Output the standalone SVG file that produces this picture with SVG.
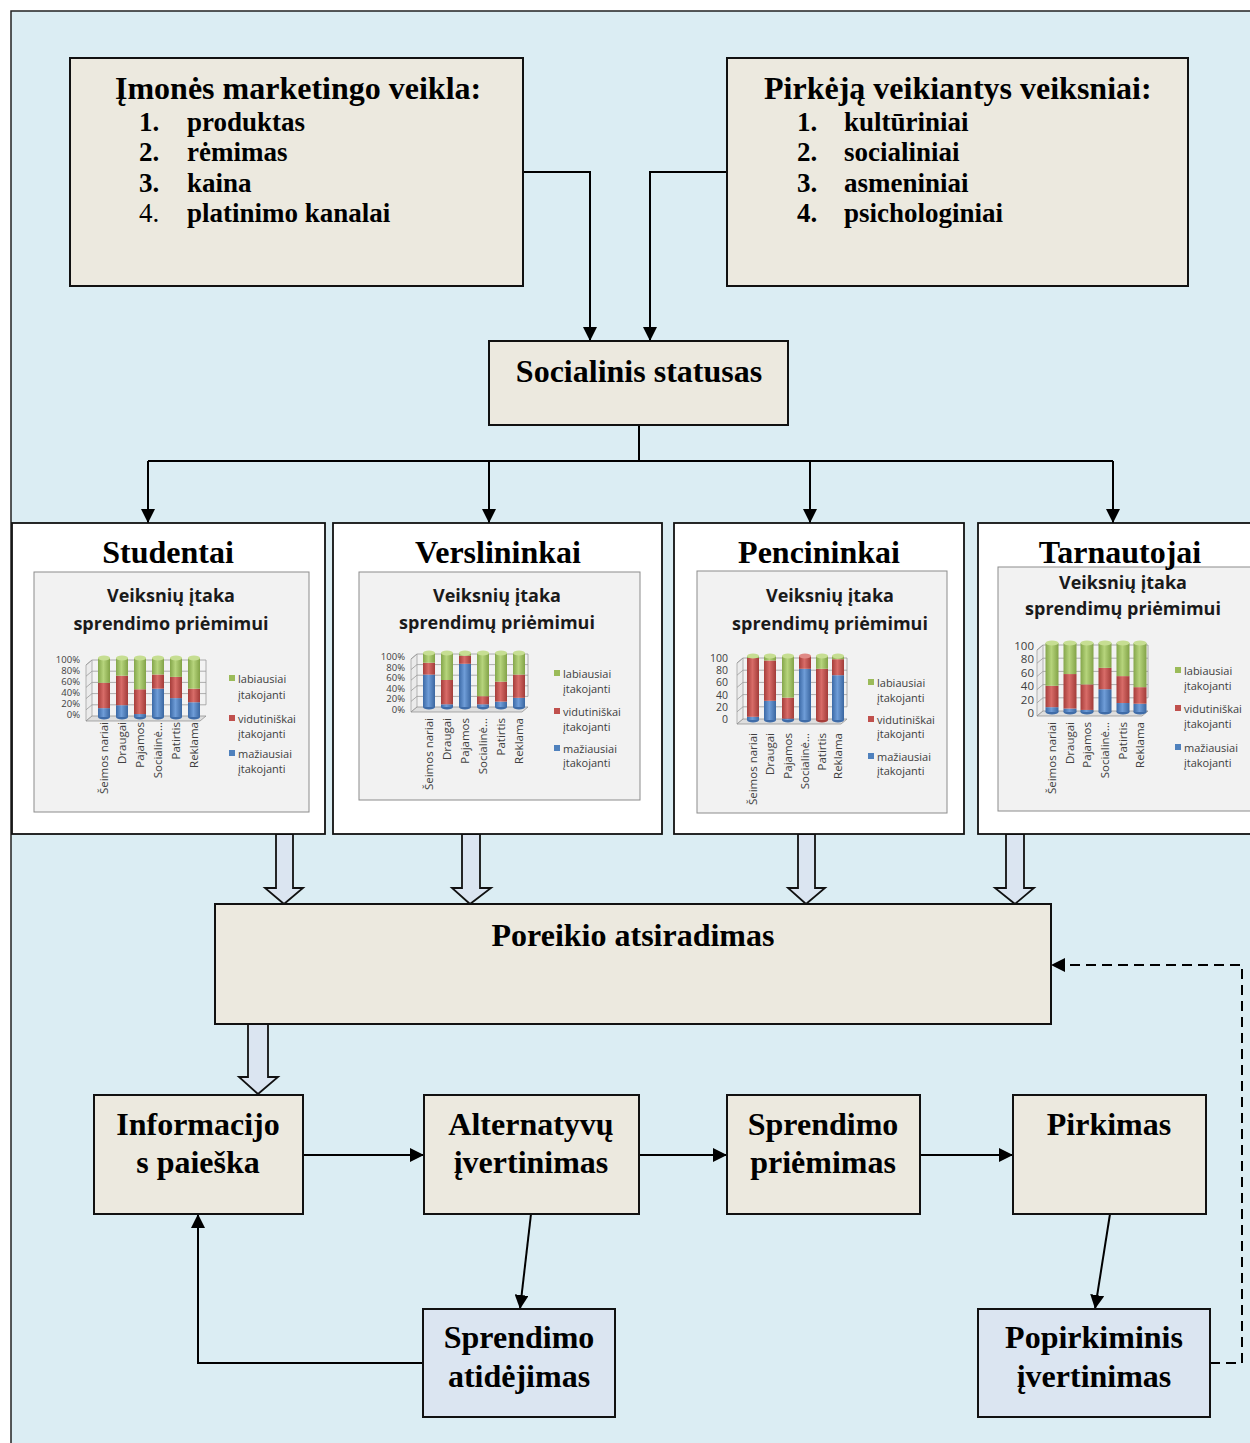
<svg xmlns="http://www.w3.org/2000/svg" width="1250" height="1443" viewBox="0 0 1250 1443">
  <defs>
    <marker id="ah" viewBox="0 0 14 14" markerWidth="14" markerHeight="14" refX="14" refY="7" orient="auto" markerUnits="userSpaceOnUse">
      <path d="M0,0 L14,7 L0,14 z" fill="#000"/>
    </marker>
    <linearGradient id="gB" x1="0" y1="0" x2="1" y2="0">
      <stop offset="0" stop-color="#3b69a6"/><stop offset="0.45" stop-color="#6f9dd8"/><stop offset="1" stop-color="#3a66a0"/>
    </linearGradient>
    <linearGradient id="gR" x1="0" y1="0" x2="1" y2="0">
      <stop offset="0" stop-color="#a63d3a"/><stop offset="0.45" stop-color="#d86c68"/><stop offset="1" stop-color="#a23b38"/>
    </linearGradient>
    <linearGradient id="gG" x1="0" y1="0" x2="1" y2="0">
      <stop offset="0" stop-color="#84a64a"/><stop offset="0.45" stop-color="#b6d47c"/><stop offset="1" stop-color="#82a347"/>
    </linearGradient>
  </defs>
  <style>
    .box{fill:#ece9df;stroke:#111;stroke-width:2}
    .bbox{fill:#dbe5f1;stroke:#111;stroke-width:2}
    .grp{fill:#fff;stroke:#111;stroke-width:1.8}
    .chart{fill:#f2f2f2;stroke:#8c8c8c;stroke-width:1}
    .t{font-family:"Liberation Serif","Times New Roman",serif;font-weight:bold;font-size:32px;fill:#000}
    .c{text-anchor:middle}
    .it{font-family:"Liberation Serif","Times New Roman",serif;font-weight:bold;font-size:27px;fill:#000}
    .reg{font-weight:normal}
    .ln{fill:none;stroke:#000;stroke-width:2}
    .dash{fill:none;stroke:#000;stroke-width:2;stroke-dasharray:10 6}
    .blk{fill:#dbe5f1;stroke:#111;stroke-width:1.8}
    .ct{font-family:"Open Sans",sans-serif;font-weight:bold;font-size:18px;fill:#1a1a1a;text-anchor:middle}
    .ax{font-family:"Open Sans",sans-serif;font-size:9.5px;fill:#404040;text-anchor:end}
    .xl{font-family:"Open Sans",sans-serif;font-size:11.5px;fill:#404040;text-anchor:end}
    .lg{font-family:"Open Sans",sans-serif;font-size:11px;fill:#404040}
    .grid{fill:none;stroke:#9a9a9a;stroke-width:0.8}
    .floor{fill:#dedede;stroke:#8a8a8a;stroke-width:0.7}
    .wall{fill:#ebebeb;stroke:#9a9a9a;stroke-width:0.7}
    .sb{fill:url(#gB)}
    .sr{fill:url(#gR)}
    .sg{fill:url(#gG)}
    .capg{fill:#c6de92}
    .capr{fill:#e08a86}
    .botb{fill:#3f6ca8}
    .botr{fill:#a63d3a}
    .kB{fill:#4f81bd}
    .kR{fill:#c0504d}
    .kG{fill:#9bbb59}
  </style>

  <!-- background frame -->
  <rect x="11" y="11" width="1262" height="1452" fill="#dbedf3" stroke="#222" stroke-width="1.5"/>

  <!-- connectors -->
  <g id="connectors">
    <path class="ln" d="M523,172 H590 V341" marker-end="url(#ah)"/>
    <path class="ln" d="M727,172 H650 V341" marker-end="url(#ah)"/>
    <path class="ln" d="M639,425 V461 M148,461 H1113"/>
    <path class="ln" d="M148,461 V523" marker-end="url(#ah)"/>
    <path class="ln" d="M489,461 V523" marker-end="url(#ah)"/>
    <path class="ln" d="M810,461 V523" marker-end="url(#ah)"/>
    <path class="ln" d="M1113,461 V523" marker-end="url(#ah)"/>
    <polygon class="blk" points="276,834 293,834 293,888 303,888 284,904 265,888 276,888"/>
    <polygon class="blk" points="462,834 480,834 480,888 491,888 470,904 452,888 462,888"/>
    <polygon class="blk" points="798,834 815,834 815,888 825,888 806,904 788,888 798,888"/>
    <polygon class="blk" points="1006,834 1024,834 1024,888 1034,888 1015,904 995,888 1006,888"/>
    <polygon class="blk" points="248,1024 268,1024 268,1077 278,1077 258,1094 239,1077 248,1077"/>
    <path class="ln" d="M303,1155 H424" marker-end="url(#ah)"/>
    <path class="ln" d="M639,1155 H727" marker-end="url(#ah)"/>
    <path class="ln" d="M920,1155 H1013" marker-end="url(#ah)"/>
    <path class="ln" d="M531,1214 L520,1309" marker-end="url(#ah)"/>
    <path class="ln" d="M1110,1214 L1095,1309" marker-end="url(#ah)"/>
    <path class="ln" d="M423,1363 H198 V1214" marker-end="url(#ah)"/>
    <path class="dash" d="M1210,1363 H1242 V965 H1051" marker-end="url(#ah)"/>
  </g>

  <!-- marketing activity box -->
  <g id="marketing">
    <rect class="box" x="70" y="58" width="453" height="228"/>
    <text class="t" x="115" y="99">Įmonės marketingo veikla:</text>
    <text class="it" x="139" y="131">1.</text><text class="it" x="187" y="131">produktas</text>
    <text class="it" x="139" y="161">2.</text><text class="it" x="187" y="161">rėmimas</text>
    <text class="it" x="139" y="192">3.</text><text class="it" x="187" y="192">kaina</text>
    <text class="it reg" x="139" y="222">4.</text><text class="it" x="187" y="222">platinimo kanalai</text>
  </g>

  <!-- buyer factors box -->
  <g id="factors">
    <rect class="box" x="727" y="58" width="461" height="228"/>
    <text class="t" x="764" y="99">Pirkėją veikiantys veiksniai:</text>
    <text class="it" x="797" y="131">1.</text><text class="it" x="844" y="131">kultūriniai</text>
    <text class="it" x="797" y="161">2.</text><text class="it" x="844" y="161">socialiniai</text>
    <text class="it" x="797" y="192">3.</text><text class="it" x="844" y="192">asmeniniai</text>
    <text class="it" x="797" y="222">4.</text><text class="it" x="844" y="222">psichologiniai</text>
  </g>

  <g id="status">
    <rect class="box" x="489" y="341" width="299" height="84"/>
    <text class="t c" x="639" y="382">Socialinis statusas</text>
  </g>

  <!-- Studentai -->
  <g id="studentai">
    <rect class="grp" x="12" y="523" width="313" height="311"/>
    <text class="t c" x="168" y="563">Studentai</text>
    <rect class="chart" x="34" y="572" width="275" height="240"/>
    <text class="ct" x="171" y="602">Veiksnių įtaka</text>
    <text class="ct" x="171" y="630">sprendimo priėmimui</text>
    <polygon class="wall" points="86,665 92,660 92,716 86,721"/>
    <polygon class="floor" points="92,716 206,716 200,721 86,721"/>
    <path class="grid" d="M86,665 L92,660 H206 M86,676.2 L92,671.2 H206 M86,687.4 L92,682.4 H206 M86,698.6 L92,693.6 H206 M86,709.8 L92,704.8 H206 V660"/>
    <g class="ax">
      <text x="80" y="663">100%</text><text x="80" y="674">80%</text><text x="80" y="685">60%</text>
      <text x="80" y="696">40%</text><text x="80" y="707">20%</text><text x="80" y="718">0%</text>
    </g>
    <g>
      <ellipse class="botb" cx="104" cy="717" rx="6" ry="2.5"/><ellipse class="botb" cx="122" cy="717" rx="6" ry="2.5"/><ellipse class="botb" cx="140" cy="717" rx="6" ry="2.5"/>
      <ellipse class="botb" cx="158" cy="717" rx="6" ry="2.5"/><ellipse class="botb" cx="176" cy="717" rx="6" ry="2.5"/><ellipse class="botb" cx="194" cy="717" rx="6" ry="2.5"/>
      <g transform="translate(98,717) scale(1,-0.59)"><rect class="sb" width="12" height="15"/><rect class="sr" y="15" width="12" height="43"/><rect class="sg" y="58" width="12" height="42"/></g>
      <g transform="translate(116,717) scale(1,-0.59)"><rect class="sb" width="12" height="20"/><rect class="sr" y="20" width="12" height="50"/><rect class="sg" y="70" width="12" height="30"/></g>
      <g transform="translate(134,717) scale(1,-0.59)"><rect class="sb" width="12" height="5"/><rect class="sr" y="5" width="12" height="42"/><rect class="sg" y="47" width="12" height="53"/></g>
      <g transform="translate(152,717) scale(1,-0.59)"><rect class="sb" width="12" height="48"/><rect class="sr" y="48" width="12" height="24"/><rect class="sg" y="72" width="12" height="28"/></g>
      <g transform="translate(170,717) scale(1,-0.59)"><rect class="sb" width="12" height="32"/><rect class="sr" y="32" width="12" height="36"/><rect class="sg" y="68" width="12" height="32"/></g>
      <g transform="translate(188,717) scale(1,-0.59)"><rect class="sb" width="12" height="25"/><rect class="sr" y="25" width="12" height="23"/><rect class="sg" y="48" width="12" height="52"/></g>
      <ellipse class="capg" cx="104" cy="658" rx="6" ry="2.5"/><ellipse class="capg" cx="122" cy="658" rx="6" ry="2.5"/><ellipse class="capg" cx="140" cy="658" rx="6" ry="2.5"/>
      <ellipse class="capg" cx="158" cy="658" rx="6" ry="2.5"/><ellipse class="capg" cx="176" cy="658" rx="6" ry="2.5"/><ellipse class="capg" cx="194" cy="658" rx="6" ry="2.5"/>
    </g>
    <text class="xl" transform="translate(108,722) rotate(-90)">Šeimos nariai</text>
    <text class="xl" transform="translate(126,722) rotate(-90)">Draugai</text>
    <text class="xl" transform="translate(144,722) rotate(-90)">Pajamos</text>
    <text class="xl" transform="translate(162,722) rotate(-90)">Socialinė…</text>
    <text class="xl" transform="translate(180,722) rotate(-90)">Patirtis</text>
    <text class="xl" transform="translate(198,722) rotate(-90)">Reklama</text>
    <rect class="kG" x="229" y="675" width="6" height="6"/><text class="lg" x="238" y="683">labiausiai</text><text class="lg" x="238" y="699">įtakojanti</text>
    <rect class="kR" x="229" y="715" width="6" height="6"/><text class="lg" x="238" y="723">vidutiniškai</text><text class="lg" x="238" y="738">įtakojanti</text>
    <rect class="kB" x="229" y="750" width="6" height="6"/><text class="lg" x="238" y="758">mažiausiai</text><text class="lg" x="238" y="773">įtakojanti</text>
  </g>

  <!-- Verslininkai -->
  <g id="verslininkai">
    <rect class="grp" x="333" y="523" width="329" height="311"/>
    <text class="t c" x="498" y="563">Verslininkai</text>
    <rect class="chart" x="359" y="572" width="281" height="228"/>
    <text class="ct" x="497" y="602">Veiksnių įtaka</text>
    <text class="ct" x="497" y="629">sprendimų priėmimui</text>
    <polygon class="wall" points="411,659 417,654 417,707 411,712"/>
    <polygon class="floor" points="417,707 528,707 522,712 411,712"/>
    <path class="grid" d="M411,659 L417,654 H528 M411,669.6 L417,664.6 H528 M411,680.2 L417,675.2 H528 M411,690.8 L417,685.8 H528 M411,701.4 L417,696.4 H528 V654"/>
    <g class="ax">
      <text x="405" y="660">100%</text><text x="405" y="670.6">80%</text><text x="405" y="681.2">60%</text>
      <text x="405" y="691.8">40%</text><text x="405" y="702.4">20%</text><text x="405" y="713">0%</text>
    </g>
    <g>
      <ellipse class="botb" cx="429" cy="707" rx="6" ry="2.5"/><ellipse class="botb" cx="447" cy="707" rx="6" ry="2.5"/><ellipse class="botb" cx="465" cy="707" rx="6" ry="2.5"/>
      <ellipse class="botb" cx="483" cy="707" rx="6" ry="2.5"/><ellipse class="botb" cx="501" cy="707" rx="6" ry="2.5"/><ellipse class="botb" cx="519" cy="707" rx="6" ry="2.5"/>
      <g transform="translate(423,707) scale(1,-0.54)"><rect class="sb" width="12" height="60"/><rect class="sr" y="60" width="12" height="22"/><rect class="sg" y="82" width="12" height="18"/></g>
      <g transform="translate(441,707) scale(1,-0.54)"><rect class="sb" width="12" height="5"/><rect class="sr" y="5" width="12" height="45"/><rect class="sg" y="50" width="12" height="50"/></g>
      <g transform="translate(459,707) scale(1,-0.54)"><rect class="sb" width="12" height="80"/><rect class="sr" y="80" width="12" height="15"/><rect class="sg" y="95" width="12" height="5"/></g>
      <g transform="translate(477,707) scale(1,-0.54)"><rect class="sb" width="12" height="5"/><rect class="sr" y="5" width="12" height="15"/><rect class="sg" y="20" width="12" height="80"/></g>
      <g transform="translate(495,707) scale(1,-0.54)"><rect class="sb" width="12" height="10"/><rect class="sr" y="10" width="12" height="37"/><rect class="sg" y="47" width="12" height="53"/></g>
      <g transform="translate(513,707) scale(1,-0.54)"><rect class="sb" width="12" height="17"/><rect class="sr" y="17" width="12" height="43"/><rect class="sg" y="60" width="12" height="40"/></g>
      <ellipse class="capg" cx="429" cy="653" rx="6" ry="2.5"/><ellipse class="capg" cx="447" cy="653" rx="6" ry="2.5"/><ellipse class="capg" cx="465" cy="653" rx="6" ry="2.5"/>
      <ellipse class="capg" cx="483" cy="653" rx="6" ry="2.5"/><ellipse class="capg" cx="501" cy="653" rx="6" ry="2.5"/><ellipse class="capg" cx="519" cy="653" rx="6" ry="2.5"/>
    </g>
    <text class="xl" transform="translate(433,718) rotate(-90)">Šeimos nariai</text>
    <text class="xl" transform="translate(451,718) rotate(-90)">Draugai</text>
    <text class="xl" transform="translate(469,718) rotate(-90)">Pajamos</text>
    <text class="xl" transform="translate(487,718) rotate(-90)">Socialinė…</text>
    <text class="xl" transform="translate(505,718) rotate(-90)">Patirtis</text>
    <text class="xl" transform="translate(523,718) rotate(-90)">Reklama</text>
    <rect class="kG" x="554" y="670" width="6" height="6"/><text class="lg" x="563" y="678">labiausiai</text><text class="lg" x="563" y="693">įtakojanti</text>
    <rect class="kR" x="554" y="708" width="6" height="6"/><text class="lg" x="563" y="716">vidutiniškai</text><text class="lg" x="563" y="731">įtakojanti</text>
    <rect class="kB" x="554" y="745" width="6" height="6"/><text class="lg" x="563" y="753">mažiausiai</text><text class="lg" x="563" y="767">įtakojanti</text>
  </g>

  <!-- Pencininkai -->
  <g id="pencininkai">
    <rect class="grp" x="674" y="523" width="290" height="311"/>
    <text class="t c" x="819" y="563">Pencininkai</text>
    <rect class="chart" x="697" y="571" width="250" height="242"/>
    <text class="ct" x="830" y="602">Veiksnių įtaka</text>
    <text class="ct" x="830" y="630">sprendimų priėmimui</text>
    <polygon class="wall" points="737,663 743,658 743,719 737,724"/>
    <polygon class="floor" points="743,719 847,719 841,724 737,724"/>
    <path class="grid" d="M737,663 L743,658 H847 M737,675.2 L743,670.2 H847 M737,687.4 L743,682.4 H847 M737,699.6 L743,694.6 H847 M737,711.8 L743,706.8 H847 V658"/>
    <g class="ax" style="font-size:10.5px">
      <text x="728" y="662">100</text><text x="728" y="674.2">80</text><text x="728" y="686.4">60</text>
      <text x="728" y="698.6">40</text><text x="728" y="710.8">20</text><text x="728" y="723">0</text>
    </g>
    <g>
      <ellipse class="botb" cx="753" cy="720" rx="6" ry="2.5"/><ellipse class="botb" cx="770" cy="720" rx="6" ry="2.5"/><ellipse class="botb" cx="788" cy="720" rx="6" ry="2.5"/>
      <ellipse class="botb" cx="805" cy="720" rx="6" ry="2.5"/><ellipse class="botr" cx="822" cy="720" rx="6" ry="2.5"/><ellipse class="botb" cx="838" cy="720" rx="6" ry="2.5"/>
      <g transform="translate(747,720) scale(1,-0.64)"><rect class="sb" width="12" height="5"/><rect class="sr" y="5" width="12" height="92"/><rect class="sg" y="97" width="12" height="3"/></g>
      <g transform="translate(764,720) scale(1,-0.64)"><rect class="sb" width="12" height="30"/><rect class="sr" y="30" width="12" height="63"/><rect class="sg" y="93" width="12" height="7"/></g>
      <g transform="translate(782,720) scale(1,-0.64)"><rect class="sb" width="12" height="2"/><rect class="sr" y="2" width="12" height="33"/><rect class="sg" y="35" width="12" height="65"/></g>
      <g transform="translate(799,720) scale(1,-0.64)"><rect class="sb" width="12" height="80"/><rect class="sr" y="80" width="12" height="20"/></g>
      <g transform="translate(816,720) scale(1,-0.64)"><rect class="sr" width="12" height="80"/><rect class="sg" y="80" width="12" height="20"/></g>
      <g transform="translate(832,720) scale(1,-0.64)"><rect class="sb" width="12" height="70"/><rect class="sr" y="70" width="12" height="25"/><rect class="sg" y="95" width="12" height="5"/></g>
      <ellipse class="capg" cx="753" cy="656" rx="6" ry="2.5"/><ellipse class="capg" cx="770" cy="656" rx="6" ry="2.5"/><ellipse class="capg" cx="788" cy="656" rx="6" ry="2.5"/>
      <ellipse class="capr" cx="805" cy="656" rx="6" ry="2.5"/><ellipse class="capg" cx="822" cy="656" rx="6" ry="2.5"/><ellipse class="capg" cx="838" cy="656" rx="6" ry="2.5"/>
    </g>
    <text class="xl" transform="translate(757,733) rotate(-90)">Šeimos nariai</text>
    <text class="xl" transform="translate(774,733) rotate(-90)">Draugai</text>
    <text class="xl" transform="translate(792,733) rotate(-90)">Pajamos</text>
    <text class="xl" transform="translate(809,733) rotate(-90)">Socialinė…</text>
    <text class="xl" transform="translate(826,733) rotate(-90)">Patirtis</text>
    <text class="xl" transform="translate(842,733) rotate(-90)">Reklama</text>
    <rect class="kG" x="868" y="679" width="6" height="6"/><text class="lg" x="877" y="687">labiausiai</text><text class="lg" x="877" y="702">įtakojanti</text>
    <rect class="kR" x="868" y="716" width="6" height="6"/><text class="lg" x="877" y="724">vidutiniškai</text><text class="lg" x="877" y="738">įtakojanti</text>
    <rect class="kB" x="868" y="753" width="6" height="6"/><text class="lg" x="877" y="761">mažiausiai</text><text class="lg" x="877" y="775">įtakojanti</text>
  </g>

  <!-- Tarnautojai -->
  <g id="tarnautojai">
    <rect class="grp" x="978" y="523" width="290" height="311"/>
    <rect class="chart" x="998" y="567" width="262" height="244"/>
    <text class="t c" x="1120" y="563">Tarnautojai</text>
    <text class="ct" x="1123" y="589">Veiksnių įtaka</text>
    <text class="ct" x="1123" y="615">sprendimų priėmimui</text>
    <polygon class="wall" points="1037,650 1043,645 1043,711 1037,716"/>
    <polygon class="floor" points="1043,711 1148,711 1142,716 1037,716"/>
    <path class="grid" d="M1037,650 L1043,645 H1148 M1037,663.2 L1043,658.2 H1148 M1037,676.4 L1043,671.4 H1148 M1037,689.6 L1043,684.6 H1148 M1037,702.8 L1043,697.8 H1148 V645"/>
    <g class="ax" style="font-size:11.5px">
      <text x="1034" y="650">100</text><text x="1034" y="663.4">80</text><text x="1034" y="676.8">60</text>
      <text x="1034" y="690.2">40</text><text x="1034" y="703.6">20</text><text x="1034" y="717">0</text>
    </g>
    <g>
      <ellipse class="botb" cx="1052" cy="712" rx="6.5" ry="2.5"/><ellipse class="botb" cx="1070" cy="712" rx="6.5" ry="2.5"/><ellipse class="botb" cx="1087" cy="712" rx="6.5" ry="2.5"/>
      <ellipse class="botb" cx="1105" cy="712" rx="6.5" ry="2.5"/><ellipse class="botb" cx="1123" cy="712" rx="6.5" ry="2.5"/><ellipse class="botb" cx="1140" cy="712" rx="6.5" ry="2.5"/>
      <g transform="translate(1045.5,712) scale(1,-0.69)"><rect class="sb" width="13" height="7"/><rect class="sr" y="7" width="13" height="31"/><rect class="sg" y="38" width="13" height="62"/></g>
      <g transform="translate(1063.5,712) scale(1,-0.69)"><rect class="sb" width="13" height="5"/><rect class="sr" y="5" width="13" height="50"/><rect class="sg" y="55" width="13" height="45"/></g>
      <g transform="translate(1080.5,712) scale(1,-0.69)"><rect class="sb" width="13" height="3"/><rect class="sr" y="3" width="13" height="37"/><rect class="sg" y="40" width="13" height="60"/></g>
      <g transform="translate(1098.5,712) scale(1,-0.69)"><rect class="sb" width="13" height="33"/><rect class="sr" y="33" width="13" height="31"/><rect class="sg" y="64" width="13" height="36"/></g>
      <g transform="translate(1116.5,712) scale(1,-0.69)"><rect class="sb" width="13" height="13"/><rect class="sr" y="13" width="13" height="39"/><rect class="sg" y="52" width="13" height="48"/></g>
      <g transform="translate(1133.5,712) scale(1,-0.69)"><rect class="sb" width="13" height="12"/><rect class="sr" y="12" width="13" height="24"/><rect class="sg" y="36" width="13" height="64"/></g>
      <ellipse class="capg" cx="1052" cy="643" rx="6.5" ry="2.5"/><ellipse class="capg" cx="1070" cy="643" rx="6.5" ry="2.5"/><ellipse class="capg" cx="1087" cy="643" rx="6.5" ry="2.5"/>
      <ellipse class="capg" cx="1105" cy="643" rx="6.5" ry="2.5"/><ellipse class="capg" cx="1123" cy="643" rx="6.5" ry="2.5"/><ellipse class="capg" cx="1140" cy="643" rx="6.5" ry="2.5"/>
    </g>
    <text class="xl" transform="translate(1056,722) rotate(-90)">Šeimos nariai</text>
    <text class="xl" transform="translate(1074,722) rotate(-90)">Draugai</text>
    <text class="xl" transform="translate(1091,722) rotate(-90)">Pajamos</text>
    <text class="xl" transform="translate(1109,722) rotate(-90)">Socialinė…</text>
    <text class="xl" transform="translate(1127,722) rotate(-90)">Patirtis</text>
    <text class="xl" transform="translate(1144,722) rotate(-90)">Reklama</text>
    <rect class="kG" x="1175" y="667" width="6" height="6"/><text class="lg" x="1184" y="675">labiausiai</text><text class="lg" x="1184" y="690">įtakojanti</text>
    <rect class="kR" x="1175" y="705" width="6" height="6"/><text class="lg" x="1184" y="713">vidutiniškai</text><text class="lg" x="1184" y="728">įtakojanti</text>
    <rect class="kB" x="1175" y="744" width="6" height="6"/><text class="lg" x="1184" y="752">mažiausiai</text><text class="lg" x="1184" y="767">įtakojanti</text>
  </g>

  <g id="poreikis">
    <rect class="box" x="215" y="904" width="836" height="120"/>
    <text class="t c" x="633" y="946">Poreikio atsiradimas</text>
  </g>

  <g id="informacija">
    <rect class="box" x="94" y="1095" width="209" height="119"/>
    <text class="t c" x="198" y="1135">Informacijo</text>
    <text class="t c" x="198" y="1173">s paieška</text>
  </g>

  <g id="alternatyvos">
    <rect class="box" x="424" y="1095" width="215" height="119"/>
    <text class="t c" x="531" y="1135">Alternatyvų</text>
    <text class="t c" x="531" y="1173">įvertinimas</text>
  </g>

  <g id="sprendimas">
    <rect class="box" x="727" y="1095" width="193" height="119"/>
    <text class="t c" x="823" y="1135">Sprendimo</text>
    <text class="t c" x="823" y="1173">priėmimas</text>
  </g>

  <g id="pirkimas">
    <rect class="box" x="1013" y="1095" width="193" height="119"/>
    <text class="t c" x="1109" y="1135">Pirkimas</text>
  </g>

  <g id="atidejimas">
    <rect class="bbox" x="423" y="1309" width="192" height="108"/>
    <text class="t c" x="519" y="1348">Sprendimo</text>
    <text class="t c" x="519" y="1387">atidėjimas</text>
  </g>

  <g id="popirkiminis">
    <rect class="bbox" x="978" y="1309" width="232" height="108"/>
    <text class="t c" x="1094" y="1348">Popirkiminis</text>
    <text class="t c" x="1094" y="1387">įvertinimas</text>
  </g>
</svg>
